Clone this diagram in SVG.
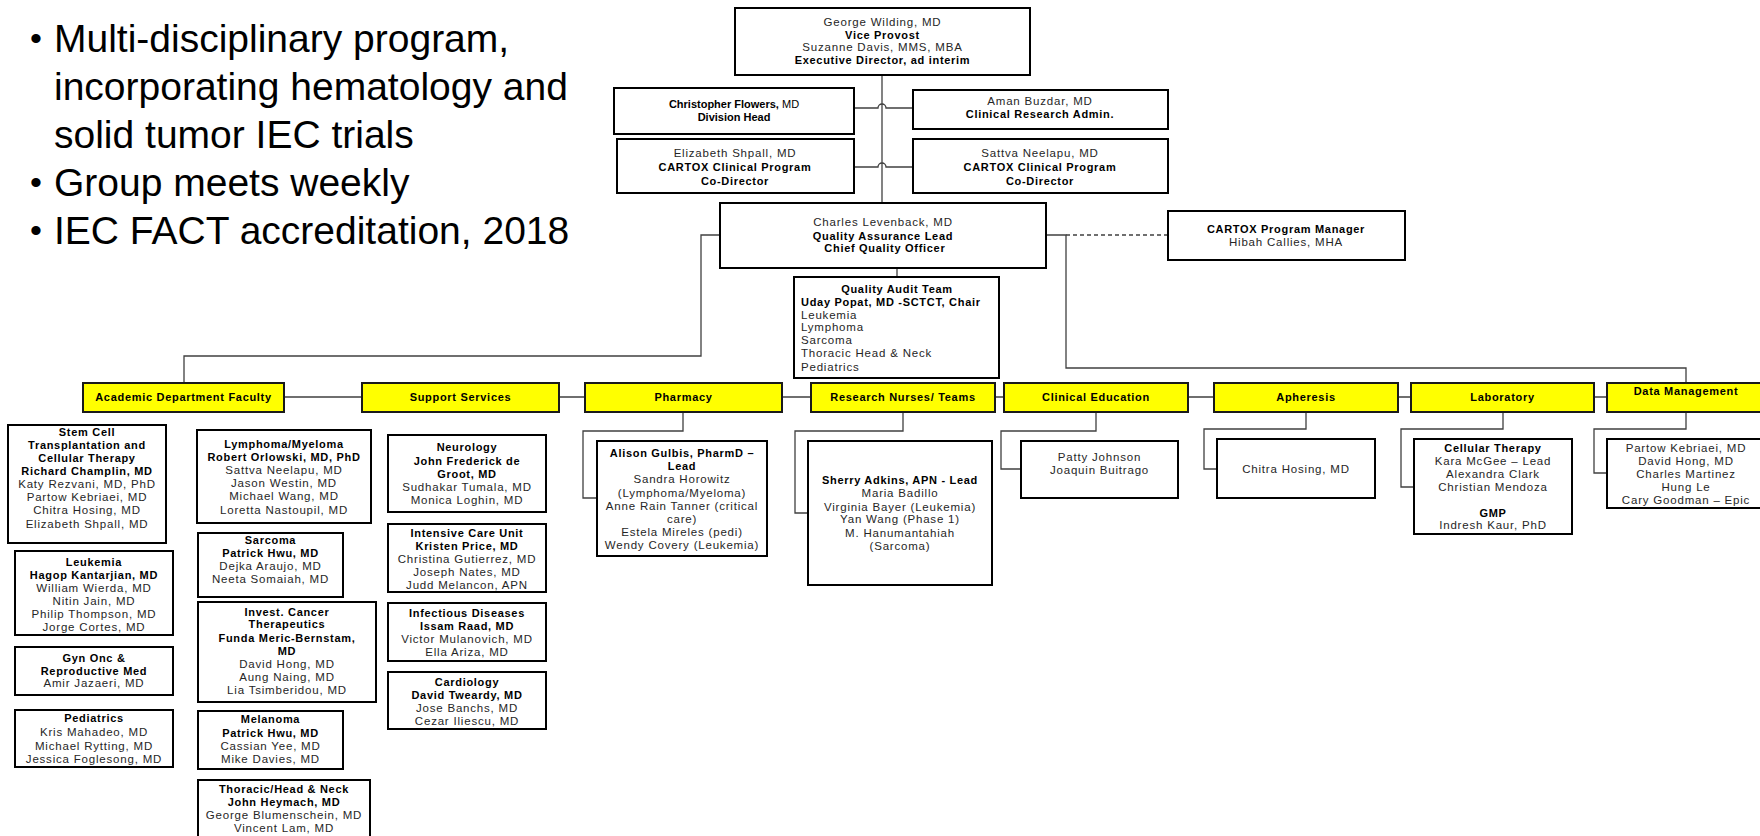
<svg xmlns="http://www.w3.org/2000/svg" width="1760" height="836" viewBox="0 0 1760 836">
<style>
.box{fill:#fff;stroke:#000;stroke-width:2}
.ybox{fill:#ffff00;stroke:#1a1a1a;stroke-width:2}
.conn{fill:none;stroke:#404040;stroke-width:1.3}
.dash{stroke-dasharray:4 3}
.t{font-family:'Liberation Sans',Arial,sans-serif;font-size:11.5px;letter-spacing:0.8px;fill:#262626;text-anchor:middle}
.l{text-anchor:start}
.b{font-weight:bold;font-size:11px;letter-spacing:0.7px;fill:#000}
.n{font-family:'Liberation Sans',Arial,sans-serif;font-size:11px;font-weight:bold;fill:#000;text-anchor:middle}
.nr{font-weight:normal}
.big{font-family:'Liberation Sans',Arial,sans-serif;font-size:39px;fill:#000}
.bul{font-family:'Liberation Sans',Arial,sans-serif;font-size:34px;fill:#000}
</style>
<rect width="1760" height="836" fill="#fff"/>

<g id="bullets">
<text class="bul" x="30" y="50">•</text>
<text class="big" x="54" y="52">Multi-disciplinary program,</text>
<text class="big" x="54" y="100">incorporating hematology and</text>
<text class="big" x="54" y="148">solid tumor IEC trials</text>
<text class="bul" x="30" y="194">•</text>
<text class="big" x="54" y="196">Group meets weekly</text>
<text class="bul" x="30" y="242">•</text>
<text class="big" x="54" y="244">IEC FACT accreditation, 2018</text>
</g>

<g id="connectors">
<path class="conn" d="M882,75 V203"/>
<path class="conn" d="M854,108 H878 A4,4 0 0 1 886,108 H913"/>
<path class="conn" d="M854,167 H878 A4,4 0 0 1 886,167 H913"/>
<path class="conn" d="M720,235 H701 V356 H184 V383"/>
<path class="conn" d="M1046,235 H1066 V368 H1686 V383"/>
<path class="conn dash" d="M1066,235 H1168"/>
<path class="conn" d="M897,268 V277"/>
<path class="conn" d="M284,397 H362 M559,397 H585 M782,397 H811 M995,397 H1004 M1188,397 H1214 M1398,397 H1411 M1594,397 H1607"/>
<path class="conn" d="M683,412 V431 H583 V498 H597"/>
<path class="conn" d="M903,412 V431 H795 V513 H808"/>
<path class="conn" d="M1096,412 V431 H1001 V469 H1021"/>
<path class="conn" d="M1306,412 V429 H1204 V469 H1217"/>
<path class="conn" d="M1503,412 V429 H1401 V487 H1414"/>
<path class="conn" d="M1686,412 V429 H1594 V473 H1607"/>
</g>

<g id="vice-provost">
<rect class="box" x="735" y="8" width="295" height="67"/>
<text class="t"><tspan x="882.5" y="26">George Wilding, MD</tspan><tspan class="b" x="882.5" y="38.5">Vice Provost</tspan><tspan x="882.5" y="51">Suzanne Davis, MMS, MBA</tspan><tspan class="b" x="882.5" y="63.5">Executive Director, ad interim</tspan></text>
</g>
<g id="division-head">
<rect class="box" x="614" y="88" width="240" height="46"/>
<text class="n"><tspan x="734" y="108">Christopher Flowers,<tspan class="nr"> MD</tspan></tspan><tspan x="734" y="121">Division Head</tspan></text>
</g>
<g id="clinical-research-admin">
<rect class="box" x="913" y="90" width="255" height="39"/>
<text class="t"><tspan x="1040" y="105">Aman Buzdar, MD</tspan><tspan class="b" x="1040" y="118">Clinical Research Admin.</tspan></text>
</g>
<g id="co-director-shpall">
<rect class="box" x="617" y="139" width="237" height="54"/>
<text class="t"><tspan x="735" y="157">Elizabeth Shpall, MD</tspan><tspan class="b" x="735" y="171">CARTOX Clinical Program</tspan><tspan class="b" x="735" y="185">Co-Director</tspan></text>
</g>
<g id="co-director-neelapu">
<rect class="box" x="913" y="139" width="255" height="54"/>
<text class="t"><tspan x="1040" y="157">Sattva Neelapu, MD</tspan><tspan class="b" x="1040" y="171">CARTOX Clinical Program</tspan><tspan class="b" x="1040" y="185">Co-Director</tspan></text>
</g>
<g id="quality-lead">
<rect class="box" x="720" y="203" width="326" height="65"/>
<text class="t"><tspan x="883" y="226">Charles Levenback, MD</tspan><tspan class="b" x="883" y="240">Quality Assurance Lead</tspan><tspan class="b" x="883" y="252"> Chief Quality Officer</tspan></text>
</g>
<g id="program-manager">
<rect class="box" x="1168" y="211" width="237" height="49"/>
<text class="t"><tspan class="b" x="1286" y="233">CARTOX Program Manager</tspan><tspan x="1286" y="246">Hibah Callies, MHA</tspan></text>
</g>
<g id="quality-audit-team">
<rect class="box" x="794" y="277" width="205" height="101"/>
<text class="t"><tspan class="b" x="897" y="293">Quality Audit Team</tspan></text>
<text class="t l"><tspan class="b" x="801" y="306">Uday Popat, MD -SCTCT, Chair</tspan><tspan x="801" y="319">Leukemia</tspan><tspan x="801" y="331">Lymphoma</tspan><tspan x="801" y="344">Sarcoma</tspan><tspan x="801" y="357">Thoracic Head &amp; Neck</tspan><tspan x="801" y="371">Pediatrics</tspan></text>
</g>

<g id="academic-department-faculty">
<rect class="ybox" x="83" y="383" width="201" height="29"/>
<text class="t b" x="183.5" y="401">Academic Department Faculty</text>
</g>
<g id="support-services">
<rect class="ybox" x="362" y="383" width="197" height="29"/>
<text class="t b" x="460.5" y="401">Support Services</text>
</g>
<g id="pharmacy">
<rect class="ybox" x="585" y="383" width="197" height="29"/>
<text class="t b" x="683.5" y="401">Pharmacy</text>
</g>
<g id="research-nurses">
<rect class="ybox" x="811" y="383" width="184" height="29"/>
<text class="t b" x="903" y="401">Research Nurses/ Teams</text>
</g>
<g id="clinical-education">
<rect class="ybox" x="1004" y="383" width="184" height="29"/>
<text class="t b" x="1096" y="401">Clinical Education</text>
</g>
<g id="apheresis">
<rect class="ybox" x="1214" y="383" width="184" height="29"/>
<text class="t b" x="1306" y="401">Apheresis</text>
</g>
<g id="laboratory">
<rect class="ybox" x="1411" y="383" width="183" height="29"/>
<text class="t b" x="1502.5" y="401">Laboratory</text>
</g>
<g id="data-management">
<rect class="ybox" x="1607" y="383" width="158" height="29"/>
<text class="t b" x="1686" y="395">Data Management</text>
</g>

<g id="stem-cell">
<rect class="box" x="8" y="425" width="158" height="118"/>
<text class="t"><tspan class="b" x="87" y="436">Stem Cell</tspan><tspan class="b" x="87" y="449">Transplantation and</tspan><tspan class="b" x="87" y="462">Cellular Therapy</tspan><tspan class="b" x="87" y="475">Richard Champlin, MD</tspan><tspan x="87" y="488">Katy Rezvani, MD, PhD</tspan><tspan x="87" y="501">Partow Kebriaei, MD</tspan><tspan x="87" y="514">Chitra Hosing, MD</tspan><tspan x="87" y="528">Elizabeth Shpall, MD</tspan></text>
</g>
<g id="leukemia">
<rect class="box" x="15" y="551" width="158" height="84"/>
<text class="t"><tspan class="b" x="94" y="566">Leukemia</tspan><tspan class="b" x="94" y="579">Hagop Kantarjian, MD</tspan><tspan x="94" y="592">William Wierda, MD</tspan><tspan x="94" y="605">Nitin Jain, MD</tspan><tspan x="94" y="618">Philip Thompson, MD</tspan><tspan x="94" y="631">Jorge Cortes, MD</tspan></text>
</g>
<g id="gyn-onc">
<rect class="box" x="15" y="647" width="158" height="48"/>
<text class="t"><tspan class="b" x="94" y="662">Gyn Onc &amp;</tspan><tspan class="b" x="94" y="675">Reproductive Med</tspan><tspan x="94" y="687">Amir Jazaeri, MD</tspan></text>
</g>
<g id="pediatrics">
<rect class="box" x="15" y="710" width="158" height="57"/>
<text class="t"><tspan class="b" x="94" y="722">Pediatrics</tspan><tspan x="94" y="736">Kris Mahadeo, MD</tspan><tspan x="94" y="750">Michael Rytting, MD</tspan><tspan x="94" y="763">Jessica Foglesong, MD</tspan></text>
</g>
<g id="lymphoma-myeloma">
<rect class="box" x="197" y="430" width="174" height="93"/>
<text class="t"><tspan class="b" x="284" y="448">Lymphoma/Myeloma</tspan><tspan class="b" x="284" y="461">Robert Orlowski, MD, PhD</tspan><tspan x="284" y="474">Sattva Neelapu, MD</tspan><tspan x="284" y="487">Jason Westin, MD</tspan><tspan x="284" y="500">Michael Wang, MD</tspan><tspan x="284" y="514">Loretta Nastoupil, MD</tspan></text>
</g>
<g id="sarcoma">
<rect class="box" x="198" y="533" width="145" height="64"/>
<text class="t"><tspan class="b" x="270.5" y="544">Sarcoma</tspan><tspan class="b" x="270.5" y="557">Patrick Hwu, MD</tspan><tspan x="270.5" y="570">Dejka Araujo, MD</tspan><tspan x="270.5" y="583">Neeta Somaiah, MD</tspan></text>
</g>
<g id="invest-cancer-therapeutics">
<rect class="box" x="198" y="602" width="178" height="100"/>
<text class="t"><tspan class="b" x="287" y="616">Invest. Cancer</tspan><tspan class="b" x="287" y="628">Therapeutics</tspan><tspan class="b" x="287" y="642">Funda Meric-Bernstam,</tspan><tspan class="b" x="287" y="655">MD</tspan><tspan x="287" y="668">David Hong, MD</tspan><tspan x="287" y="681">Aung Naing, MD</tspan><tspan x="287" y="694">Lia Tsimberidou, MD</tspan></text>
</g>
<g id="melanoma">
<rect class="box" x="198" y="711" width="145" height="58"/>
<text class="t"><tspan class="b" x="270.5" y="723">Melanoma</tspan><tspan class="b" x="270.5" y="737">Patrick Hwu, MD</tspan><tspan x="270.5" y="750">Cassian Yee, MD</tspan><tspan x="270.5" y="763">Mike Davies, MD</tspan></text>
</g>
<g id="thoracic-head-neck">
<rect class="box" x="198" y="780" width="172" height="62"/>
<text class="t"><tspan class="b" x="284" y="793">Thoracic/Head &amp; Neck</tspan><tspan class="b" x="284" y="806">John Heymach, MD</tspan><tspan x="284" y="819">George Blumenschein, MD</tspan><tspan x="284" y="832">Vincent Lam, MD</tspan></text>
</g>

<g id="neurology">
<rect class="box" x="388" y="435" width="158" height="77"/>
<text class="t"><tspan class="b" x="467" y="451">Neurology</tspan><tspan class="b" x="467" y="465">John Frederick de</tspan><tspan class="b" x="467" y="478">Groot, MD</tspan><tspan x="467" y="491">Sudhakar Tumala, MD</tspan><tspan x="467" y="504">Monica Loghin, MD</tspan></text>
</g>
<g id="icu">
<rect class="box" x="388" y="524" width="158" height="68"/>
<text class="t"><tspan class="b" x="467" y="537">Intensive Care Unit</tspan><tspan class="b" x="467" y="550">Kristen Price, MD</tspan><tspan x="467" y="563">Christina Gutierrez, MD</tspan><tspan x="467" y="576">Joseph Nates, MD</tspan><tspan x="467" y="589">Judd Melancon, APN</tspan></text>
</g>
<g id="infectious-diseases">
<rect class="box" x="388" y="603" width="158" height="58"/>
<text class="t"><tspan class="b" x="467" y="617">Infectious Diseases</tspan><tspan class="b" x="467" y="630">Issam Raad, MD</tspan><tspan x="467" y="643">Victor Mulanovich, MD</tspan><tspan x="467" y="656">Ella Ariza, MD</tspan></text>
</g>
<g id="cardiology">
<rect class="box" x="388" y="672" width="158" height="57"/>
<text class="t"><tspan class="b" x="467" y="686">Cardiology</tspan><tspan class="b" x="467" y="699">David Tweardy, MD</tspan><tspan x="467" y="712">Jose Banchs, MD</tspan><tspan x="467" y="725">Cezar Iliescu, MD</tspan></text>
</g>

<g id="pharmacy-team">
<rect class="box" x="597" y="441" width="170" height="115"/>
<text class="t"><tspan class="b" x="682" y="457">Alison Gulbis, PharmD –</tspan><tspan class="b" x="682" y="470">Lead</tspan><tspan x="682" y="483">Sandra Horowitz</tspan><tspan x="682" y="497">(Lymphoma/Myeloma)</tspan><tspan x="682" y="510">Anne Rain Tanner (critical</tspan><tspan x="682" y="523">care)</tspan><tspan x="682" y="536">Estela Mireles (pedi)</tspan><tspan x="682" y="549">Wendy Covery (Leukemia)</tspan></text>
</g>
<g id="research-nurses-team">
<rect class="box" x="808" y="441" width="184" height="144"/>
<text class="t"><tspan class="b" x="900" y="484">Sherry Adkins, APN - Lead</tspan><tspan x="900" y="497">Maria Badillo</tspan><tspan x="900" y="511">Virginia Bayer (Leukemia)</tspan><tspan x="900" y="523">Yan Wang (Phase 1)</tspan><tspan x="900" y="537">M. Hanumantahiah</tspan><tspan x="900" y="550">(Sarcoma)</tspan></text>
</g>
<g id="clinical-education-team">
<rect class="box" x="1021" y="441" width="157" height="57"/>
<text class="t"><tspan x="1099.5" y="461">Patty Johnson</tspan><tspan x="1099.5" y="474">Joaquin Buitrago</tspan></text>
</g>
<g id="apheresis-team">
<rect class="box" x="1217" y="439" width="158" height="59"/>
<text class="t" x="1296" y="473">Chitra Hosing, MD</text>
</g>
<g id="laboratory-team">
<rect class="box" x="1414" y="439" width="158" height="95"/>
<text class="t"><tspan class="b" x="1493" y="452">Cellular Therapy</tspan><tspan x="1493" y="465">Kara McGee – Lead</tspan><tspan x="1493" y="478">Alexandra Clark</tspan><tspan x="1493" y="491">Christian Mendoza</tspan><tspan class="b" x="1493" y="517">GMP</tspan><tspan x="1493" y="529">Indresh Kaur, PhD</tspan></text>
</g>
<g id="data-management-team">
<rect class="box" x="1607" y="439" width="158" height="69"/>
<text class="t"><tspan x="1686" y="452">Partow Kebriaei, MD</tspan><tspan x="1686" y="465">David Hong, MD</tspan><tspan x="1686" y="478">Charles Martinez</tspan><tspan x="1686" y="491">Hung Le</tspan><tspan x="1686" y="504">Cary Goodman – Epic</tspan></text>
</g>
</svg>
